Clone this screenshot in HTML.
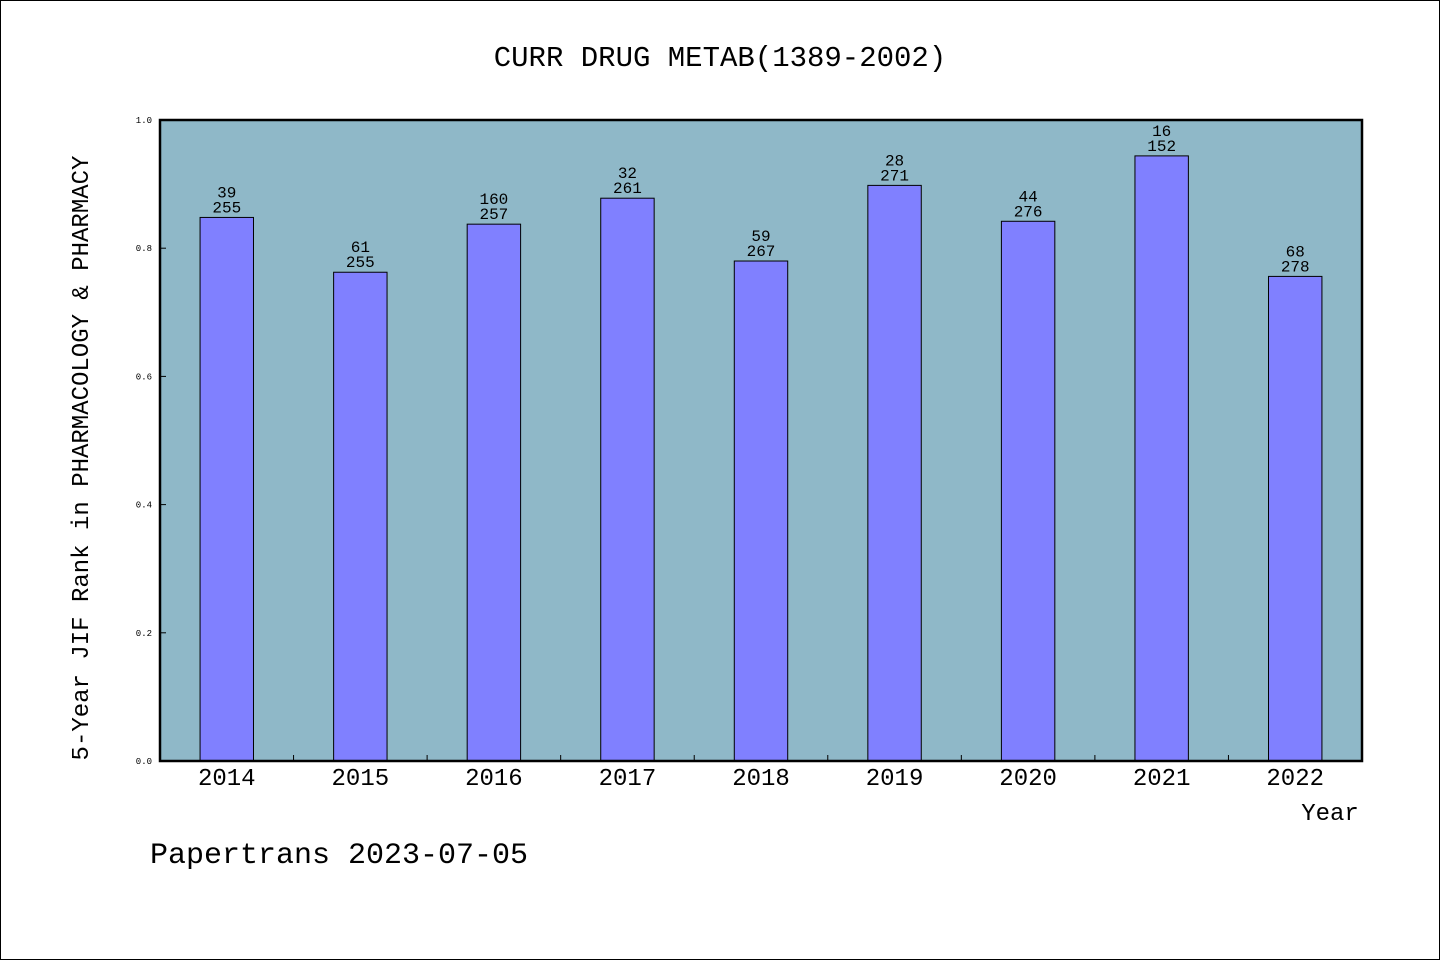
<!DOCTYPE html>
<html><head><meta charset="utf-8">
<style>
html,body{margin:0;padding:0;background:#fff;}
svg text{font-family:"Liberation Mono","WenQuanYi Zen Hei",monospace;fill:#000;}
</style></head>
<body>
<svg width="1440" height="960" viewBox="0 0 1440 960" xmlns="http://www.w3.org/2000/svg">
<rect x="0.5" y="0.5" width="1439" height="959" fill="#fff" stroke="#000"/>
<text x="720" y="66" font-size="29" text-anchor="middle">CURR DRUG METAB(1389-2002)</text>
<rect x="160" y="120" width="1202" height="641" fill="#8fb8c8"/>
<g id="bars"></g>
<g id="axes"></g>
<rect x="160" y="120" width="1202" height="641" fill="none" stroke="#000" stroke-width="2.5"/>
<text x="1330" y="820" font-size="24" text-anchor="middle">Year</text>
<text x="150" y="863" font-size="30">Papertrans 2023-07-05</text>
<text transform="translate(88,458) rotate(-90)" font-size="24" text-anchor="middle">5-Year JIF Rank in PHARMACOLOGY &amp; PHARMACY</text>
</svg>
<script>
const years = ["2014","2015","2016","2017","2018","2019","2020","2021","2022"];
const values = [0.848,0.7625,0.8375,0.878,0.780,0.898,0.842,0.944,0.756];
const ranks = ["39","61","160","32","59","28","44","16","68"];
const totals = ["255","255","257","261","267","271","276","152","278"];
const yTicks = ["0.0","0.2","0.4","0.6","0.8","1.0"];
const NS="http://www.w3.org/2000/svg";
const X0=160,X1=1362,Y0=761,Y1=120;
const band=(X1-X0)/years.length;
const xC=i=>X0+band*(i+0.5);
const yS=v=>Y0-(v/1.0)*(Y0-Y1);
const bars=document.getElementById('bars'), axes=document.getElementById('axes');
function mk(t,a,p){const e=document.createElementNS(NS,t);for(const k in a)e.setAttribute(k,a[k]);p.appendChild(e);return e;}
years.forEach((y,i)=>{
  const w=band*0.4, top=yS(values[i]);
  const r=mk('rect',{x:xC(i)-w/2,y:top,width:w,height:Y0-top,fill:'#8080ff',stroke:'#000','stroke-width':1},bars);
  
  
  const t1=mk('text',{x:xC(i),y:top-20,'font-size':16,'text-anchor':'middle'},bars);t1.textContent=ranks[i];
  
  
  const t2=mk('text',{x:xC(i),y:top-5,'font-size':16,'text-anchor':'middle'},bars);t2.textContent=totals[i];
  
  
  const xl=mk('text',{x:xC(i),y:785,'font-size':24,'text-anchor':'middle'},axes);xl.textContent=y;
  
  
  if(i>0){const tk=mk('line',{x1:X0+band*i,x2:X0+band*i,y1:Y0,y2:Y0-6,stroke:'#000'},axes);
  
  }
});
yTicks.forEach(t=>{
  const y=yS(parseFloat(t));
  const l=mk('line',{x1:X0,x2:X0+6,y1:y,y2:y,stroke:'#000'},axes);
  
  
  const tx=mk('text',{x:X0-8,y:y+3,'font-size':9,'text-anchor':'end'},axes);tx.textContent=t;
  
  
});
</script>
</body></html>
